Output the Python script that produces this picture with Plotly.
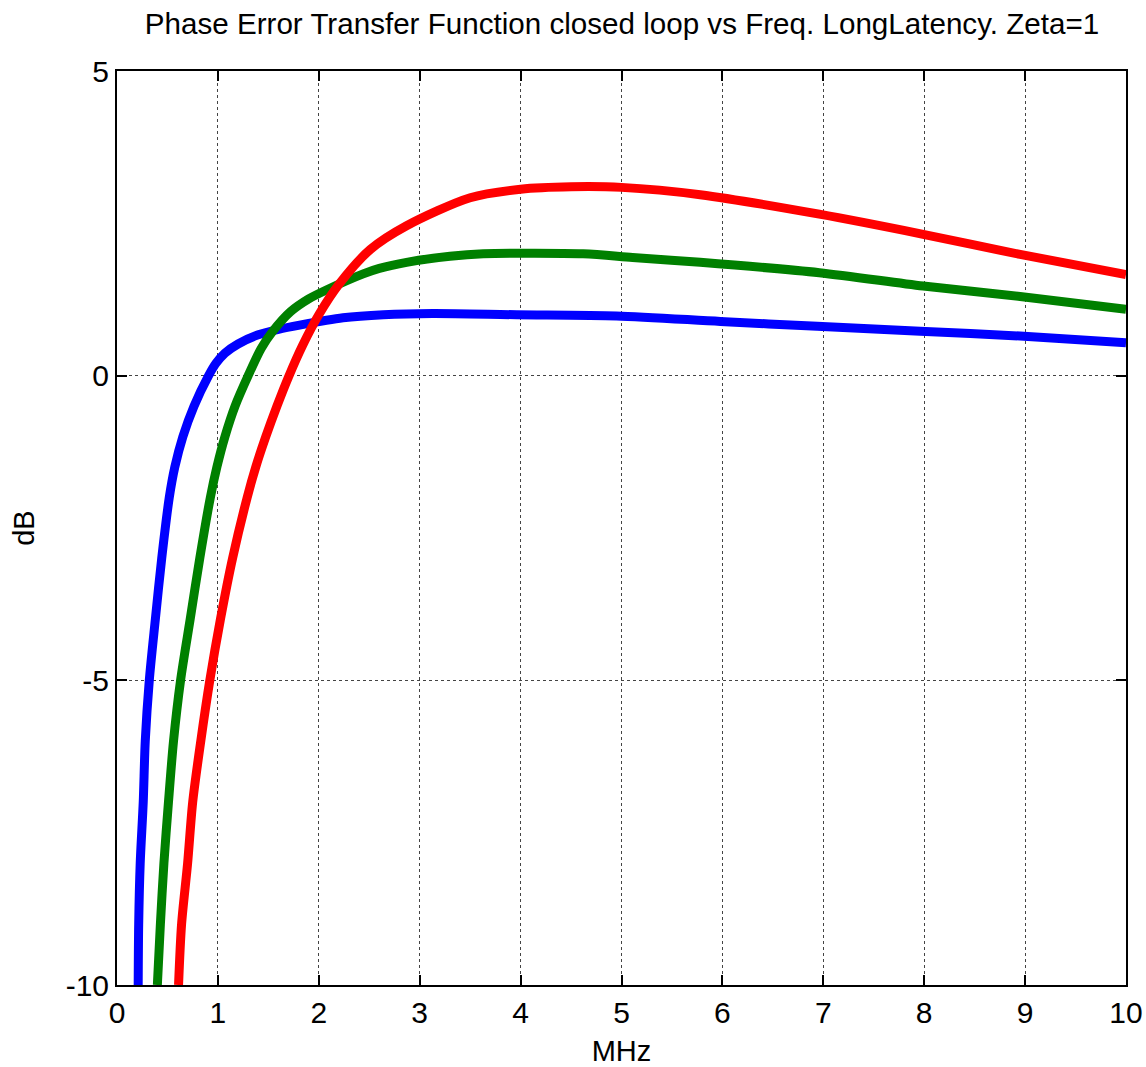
import plotly.graph_objects as go

# Blue curve
blue_x = [0.21, 0.215, 0.23, 0.26, 0.28, 0.32, 0.38, 0.443, 0.518, 0.573, 0.653, 0.763, 0.908, 0.98, 1.07, 1.2, 1.4, 1.6, 1.81, 2.24, 2.64, 3.13, 3.96, 4.95, 5.98, 6.94, 7.96, 8.95, 10.0]
blue_y = [-10, -9, -8, -7, -6, -5, -4, -3, -2, -1.5, -1.0, -0.5, 0, 0.2, 0.37, 0.52, 0.67, 0.76, 0.83, 0.95, 1.0, 1.02, 1.0, 0.98, 0.89, 0.81, 0.73, 0.65, 0.54]

# Green curve
green_x = [0.40, 0.43, 0.465, 0.51, 0.56, 0.63, 0.725, 0.82, 0.925, 0.99, 1.07, 1.17, 1.30, 1.43, 1.54, 1.72, 1.9, 2.08, 2.44, 2.6, 2.87, 3.3, 3.63, 4.62, 5.11, 5.78, 6.96, 7.99, 8.95, 10.0]
green_y = [-10, -9, -8, -7, -6, -5, -4, -3, -2, -1.5, -1.0, -0.5, 0, 0.45, 0.72, 1.05, 1.26, 1.41, 1.67, 1.76, 1.86, 1.96, 2.0, 2.0, 1.94, 1.86, 1.69, 1.47, 1.3, 1.09]

# Red curve
red_x = [0.61, 0.64, 0.70, 0.75, 0.83, 0.92, 1.025, 1.145, 1.29, 1.375, 1.475, 1.585, 1.705, 1.84, 2.0, 2.2, 2.51, 2.87, 3.5, 4.0, 4.5, 5.0, 5.78, 6.96, 7.99, 8.95, 10.0]
red_y = [-10, -9, -8, -7, -6, -5, -4, -3, -2, -1.5, -1.0, -0.5, 0, 0.5, 1.0, 1.5, 2.07, 2.46, 2.92, 3.06, 3.1, 3.09, 2.97, 2.65, 2.32, 1.99, 1.66]

x_ticks = [0, 1, 2, 3, 4, 5, 6, 7, 8, 9, 10]
y_ticks = [-10, -5, 0, 5]

font = "Liberation Sans, Arial, sans-serif"

fig = go.Figure()
for xs, ys, c in [(blue_x, blue_y, "#0000FF"), (green_x, green_y, "#008000"), (red_x, red_y, "#FF0000")]:
    fig.add_trace(go.Scatter(x=xs, y=ys, mode="lines",
                             line=dict(color=c, width=9, shape="spline", smoothing=0.8),
                             showlegend=False))

axis_common = dict(
    showline=True, linecolor="black", linewidth=2, mirror="ticks",
    ticks="inside", ticklen=10, tickwidth=2, tickcolor="black",
    showgrid=True, gridcolor="#444444", gridwidth=1, griddash="dot",
    zeroline=False, automargin=False,
    tickfont=dict(family=font, size=30, color="black"),
)

fig.update_layout(
    width=1146, height=1067,
    margin=dict(l=117, r=20, t=71, b=82),
    paper_bgcolor="white", plot_bgcolor="white",
    title=dict(text="Phase Error Transfer Function closed loop vs Freq. LongLatency. Zeta=1",
               x=622 / 1146, xanchor="center", y=1 - 24 / 1067, yanchor="middle",
               font=dict(family=font, size=29.6, color="black")),
    xaxis=dict(range=[0, 10], tickvals=x_ticks, ticktext=[str(v) for v in x_ticks],
               title=dict(text="MHz", font=dict(family=font, size=29, color="black"), standoff=14),
               **axis_common),
    yaxis=dict(range=[-10, 5], tickvals=y_ticks, ticktext=[str(v) for v in y_ticks],
               title=dict(text="dB", font=dict(family=font, size=29, color="black"), standoff=22),
               **axis_common),
)

fig.write_html("out.html")
